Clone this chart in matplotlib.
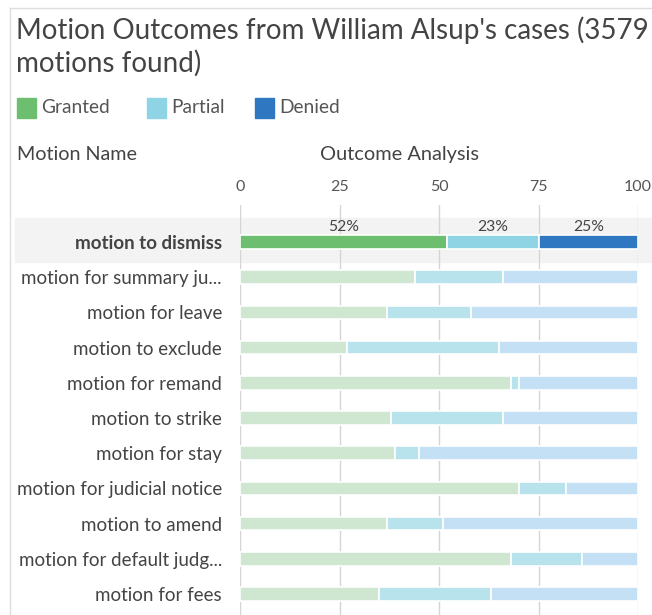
import matplotlib.pyplot as plt
from matplotlib.patches import Rectangle
from matplotlib.lines import Line2D

plt.rcParams['font.family'] = ['Lato', 'DejaVu Sans']

# Data (percent of motions per outcome)
motions = ['motion to dismiss', 'motion for summary ju...', 'motion for leave',
           'motion to exclude', 'motion for remand', 'motion to strike',
           'motion for stay', 'motion for judicial notice', 'motion to amend',
           'motion for default judg...', 'motion for fees']
granted = [52, 44, 37, 27, 68, 38, 39, 70, 37, 68, 35]
partial = [23, 22, 21, 38, 2, 28, 6, 12, 14, 18, 28]
denied = [25, 34, 42, 35, 30, 34, 55, 18, 49, 14, 37]
ticks = [0, 25, 50, 75, 100]

W, H = 652, 615
fig = plt.figure(figsize=(W / 100, H / 100), dpi=100)

def fx(px):
    return px / W

def fy(py):
    return 1 - py / H

# frame lines
fig.add_artist(Line2D([fx(10), 1], [fy(8), fy(8)], color='#dddddd', lw=1))
fig.add_artist(Line2D([fx(10), fx(10)], [fy(8), 0], color='#dddddd', lw=1))

# highlighted row band
fig.add_artist(Rectangle((fx(15), fy(262)), 1 - fx(15), fy(218) - fy(262),
                         color='#f3f3f3', zorder=0))

fig.text(fx(16), fy(30), "Motion Outcomes from William Alsup's cases (3579",
         fontsize=20, color='#444444', va='center', ha='left')
fig.text(fx(16), fy(63), "motions found)", fontsize=20, color='#444444',
         va='center', ha='left')

# legend
legend_items = [('Granted', '#6dbf6f', 17), ('Partial', '#8fd4e4', 147), ('Denied', '#2f78c1', 255)]
for name, col, x0 in legend_items:
    fig.add_artist(Rectangle((fx(x0), fy(118)), fx(19), fy(98) - fy(118), color=col))
    fig.text(fx(x0 + 24), fy(108), name, fontsize=13.8, color='#555555', va='center')

fig.text(fx(17), fy(155), 'Motion Name', fontsize=14.2, color='#444444', va='center')
fig.text(fx(400), fy(155), 'Outcome Analysis', fontsize=14.4, color='#444444',
         va='center', ha='center')

top_px, bot_px = 205, 615
ax = fig.add_axes([fx(240), 0, fx(638) - fx(240), fy(top_px)])
ax.patch.set_alpha(0)

rows = list(range(len(motions)))
full = ['#6dbf6f', '#8fd4e4', '#2f78c1']
light = ['#cfe6d0', '#b9e3ec', '#c4e0f5']
for i in rows:
    cols = full if i == 0 else light
    left = 0
    for val, c in zip([granted[i], partial[i], denied[i]], cols):
        ax.barh(i, val, left=left, height=0.39, color=c, edgecolor='white',
                linewidth=1.2, zorder=3)
        if i == 0:
            ax.text(left + val / 2, i - 0.22, f'{val}%', ha='center', va='bottom',
                    fontsize=11.3, color='#444444', zorder=4)
        left += val

row_gap = 35.2
ax.set_ylim((bot_px - 242) / row_gap, -(242 - top_px) / row_gap)
ax.set_xlim(0, 100)
ax.set_yticks(rows)
ax.set_yticklabels(motions)
for lab in ax.get_yticklabels():
    lab.set_color('#444444')
    lab.set_fontsize(13.5)
ax.get_yticklabels()[0].set_fontweight('bold')
ax.tick_params(axis='y', length=0, pad=13)

ax.xaxis.tick_top()
ax.set_xticks(ticks)
ax.tick_params(axis='x', length=0, pad=8, labelsize=11.5, labelcolor='#555555')
ax.grid(axis='x', color='#d5d5d5', lw=1, zorder=1)
for s in ax.spines.values():
    s.set_visible(False)

fig.savefig('out.png', dpi=100)
